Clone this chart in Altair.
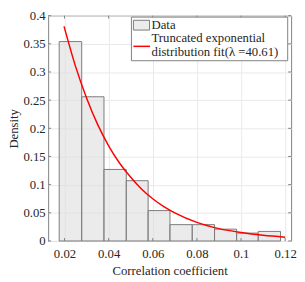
import altair as alt
import pandas as pd

# Histogram bins
bin_left = [0.0176, 0.0278, 0.0379, 0.0480, 0.0579, 0.0678, 0.0779, 0.0880, 0.0980, 0.1078]
bin_right = [0.0278, 0.0379, 0.0480, 0.0579, 0.0678, 0.0779, 0.0880, 0.0980, 0.1078, 0.1179]
density = [0.354, 0.256, 0.127, 0.107, 0.054, 0.029, 0.029, 0.021, 0.014, 0.017]

# Fitted curve points
fit_x = [0.0198, 0.025, 0.030, 0.035, 0.040, 0.045, 0.050, 0.055, 0.060, 0.065,
         0.070, 0.080, 0.090, 0.100, 0.110, 0.120]
fit_y = [0.381, 0.310, 0.254, 0.207, 0.169, 0.138, 0.113, 0.092, 0.075, 0.061,
         0.050, 0.033, 0.022, 0.015, 0.010, 0.0066]

x_ticks = [0.02, 0.04, 0.06, 0.08, 0.10, 0.12]
y_ticks = [0, 0.05, 0.10, 0.15, 0.20, 0.25, 0.30, 0.35, 0.40]

legend_labels = ["Data", "Truncated exponential", "distribution fit(\u03bb =40.61)"]
x_title = "Correlation coefficient"
y_title = "Density"

W, H = 248, 230
FONT = "Liberation Serif"
TXT = "#262626"
FRAME = "#808080"

bars_df = pd.DataFrame({"left": bin_left, "right": bin_right, "density": density,
                        "base": [0.0] * len(density)})
fit_df = pd.DataFrame({"x": fit_x, "y": fit_y})
xt_df = pd.DataFrame({"t": x_ticks})
yt_df = pd.DataFrame({"t": y_ticks})
one = pd.DataFrame({"k": [0]})

xscale = alt.Scale(domain=[0.0126, 0.1227], nice=False, zero=False)
yscale = alt.Scale(domain=[0, 0.4], nice=False, zero=False)

x_axis = alt.Axis(values=x_ticks, format="~g", title=x_title, grid=True,
                  gridColor="#e8e8e8", ticks=False, tickSize=0, domain=False,
                  labelFont=FONT, labelFontSize=13, labelColor=TXT,
                  labelBaseline="alphabetic", labelPadding=16.5,
                  labelOverlap=False, labelFlush=False, labelBound=False,
                  titleFont=FONT, titleFontSize=13, titleColor=TXT,
                  titleFontWeight="normal", titleBaseline="alphabetic",
                  titleY=34, titleX=W / 2, titleAnchor="middle")
y_axis = alt.Axis(values=y_ticks, format="~g", title=y_title, grid=True,
                  gridColor="#e8e8e8", ticks=False, tickSize=0, domain=False,
                  labelFont=FONT, labelFontSize=13, labelColor=TXT,
                  labelPadding=3, labelBaseline="middle",
                  labelOverlap=False, labelFlush=False, labelBound=False,
                  titleFont=FONT, titleFontSize=13, titleColor=TXT,
                  titleFontWeight="normal", titleBaseline="alphabetic",
                  titleX=-31.5, titleY=H / 2, titleAngle=-90, titleAnchor="middle")


def X(field):
    return alt.X(field, scale=xscale, axis=x_axis)


def Y(field):
    return alt.Y(field, scale=yscale, axis=y_axis)


bars = alt.Chart(bars_df).mark_rect(
    fill="#dedede", fillOpacity=0.6, stroke="#7a7a7a", strokeWidth=1
).encode(
    x=X("left:Q"),
    x2="right:Q",
    y=Y("density:Q"),
    y2="base:Q",
)

fit = alt.Chart(fit_df).mark_line(color="#ff0000", strokeWidth=1.5,
                                  interpolate="monotone").encode(
    x=X("x:Q"),
    y=Y("y:Q"),
)

tick_len = 3
xt_bot = alt.Chart(xt_df).mark_rule(color=FRAME, strokeWidth=1).encode(
    x=X("t:Q"), y=alt.value(H), y2=alt.value(H - tick_len))
xt_top = alt.Chart(xt_df).mark_rule(color=FRAME, strokeWidth=1).encode(
    x=X("t:Q"), y=alt.value(0), y2=alt.value(tick_len))
yt_left = alt.Chart(yt_df).mark_rule(color=FRAME, strokeWidth=1).encode(
    y=Y("t:Q"), x=alt.value(0), x2=alt.value(tick_len))
yt_right = alt.Chart(yt_df).mark_rule(color=FRAME, strokeWidth=1).encode(
    y=Y("t:Q"), x=alt.value(W), x2=alt.value(W - tick_len))

# Legend
leg_box = alt.Chart(one).mark_rect(fill="white", stroke=FRAME, strokeWidth=1).encode(
    x=alt.value(85), x2=alt.value(244.5), y=alt.value(1.5), y2=alt.value(46))
leg_swatch = alt.Chart(one).mark_rect(
    fill="#dedede", fillOpacity=0.6, stroke="#7a7a7a", strokeWidth=1
).encode(x=alt.value(87), x2=alt.value(103.5), y=alt.value(4.7), y2=alt.value(14.7))
leg_line = alt.Chart(one).mark_rule(color="#ff0000", strokeWidth=1.5).encode(
    x=alt.value(87), x2=alt.value(104), y=alt.value(31.3))

leg_texts = []
for lbl, yy in zip(legend_labels, [9.8, 22.8, 37]):
    leg_texts.append(
        alt.Chart(one).mark_text(text=lbl, font=FONT, fontSize=13, color=TXT,
                                 align="left", baseline="middle").encode(
            x=alt.value(105.5), y=alt.value(yy)))

chart = alt.layer(
    bars, fit, xt_bot, xt_top, yt_left, yt_right,
    leg_box, leg_swatch, leg_line, *leg_texts
).properties(
    width=W, height=H,
    autosize=alt.AutoSizeParams(type="none"),
    padding={"left": 41, "top": 5, "right": 6, "bottom": 37},
    background="white",
).configure_view(
    stroke=FRAME, strokeWidth=1
)

chart.save("out.html", embed_options={"renderer": "svg", "actions": False})
